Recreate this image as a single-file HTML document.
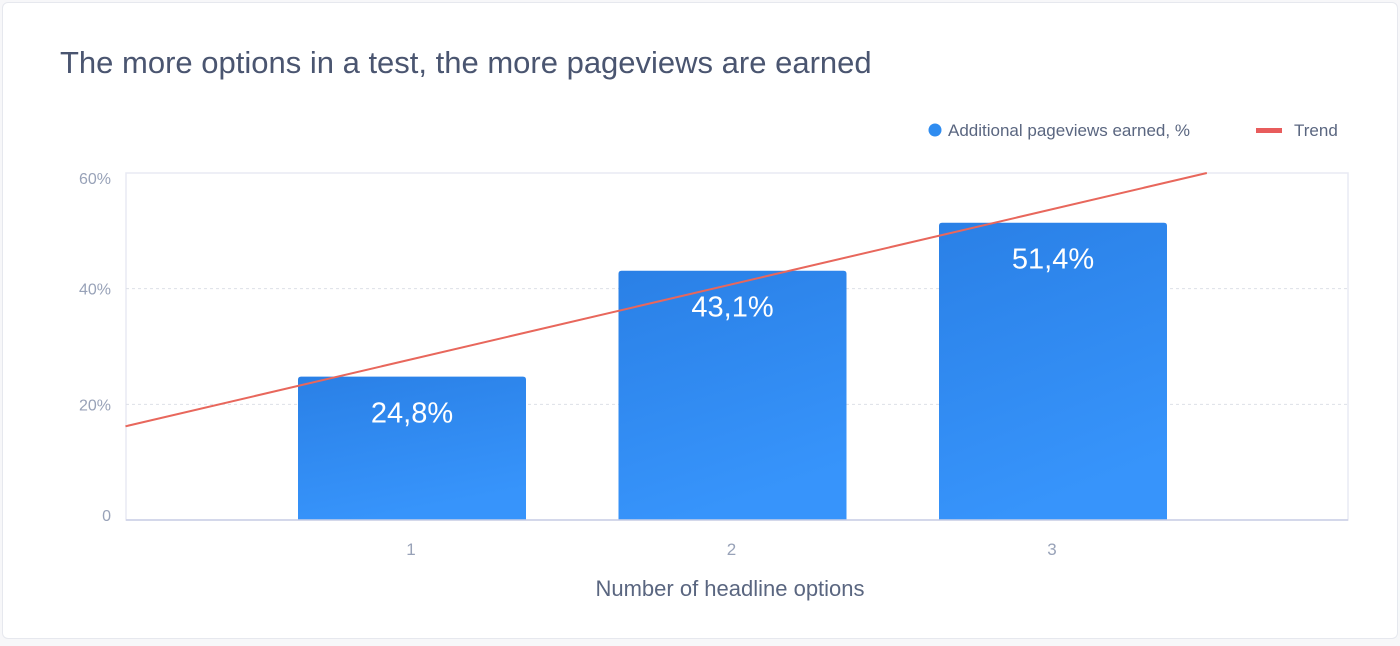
<!DOCTYPE html>
<html><head><meta charset="utf-8"><style>
html,body{margin:0;padding:0;background:#f7f7f9;width:1400px;height:646px;overflow:hidden;font-family:"Liberation Sans",Arial,sans-serif}
.card{position:absolute;left:2px;top:2px;width:1394px;height:635px;background:#fff;border:1px solid #e6e8ee;border-radius:6px}
</style></head><body>
<div class="card"></div>
<svg width="1400" height="646" style="position:absolute;left:0;top:0">
<defs><linearGradient id="bg" x1="0" y1="0" x2="0.3" y2="1"><stop offset="0" stop-color="#2a80e6"/><stop offset="1" stop-color="#3794fb"/></linearGradient></defs>
<text x="60" y="73" font-size="31" fill="#4a5570">The more options in a test, the more pageviews are earned</text>
<g>
<circle cx="935" cy="130" r="6.5" fill="#2f8cf0"/>
<text x="948" y="136" font-size="17" fill="#5a6680">Additional pageviews earned, %</text>
<rect x="1256" y="128" width="26" height="5" fill="#e85c5c"/>
<text x="1294" y="136" font-size="17" fill="#5a6680">Trend</text>
</g>
<g id="plot"></g>
<text x="730" y="596" font-size="22" text-anchor="middle" fill="#5a6680">Number of headline options</text>
</svg>
<script>
const categories=["1","2","3"];
const values=[24.8,43.1,51.4];
const valueLabels=["24,8%","43,1%","51,4%"];
const yTicks=[0,20,40,60];
const yTickLabels=["0","20%","40%","60%"];
const trendX=[0.106,3.48];
const trendY=[16.2,60];
const L=126,R=1348,T=173,B=520;
const y=v=>B-(B-T)*v/60;
const x=c=>412+(c-1)*320.5;
const bw=228;
const ns="http://www.w3.org/2000/svg";
const g=document.getElementById('plot');
function mk(t,a){const e=document.createElementNS(ns,t);for(const k in a)e.setAttribute(k,a[k]);g.appendChild(e);return e;}
let f=mk('rect',{x:L,y:T,width:R-L,height:B-T,fill:'none',stroke:'#e8eaf4','stroke-width':1.5});


yTicks.forEach((t,i)=>{
 if(t>0&&t<60){let l=mk('line',{x1:L,x2:R,y1:y(t),y2:y(t),stroke:'#dde0e8','stroke-dasharray':'3,3'});
 
 }
 let tx=mk('text',{x:111,y:y(t)+(t==60?11:t==0?1:6),'font-size':16,'text-anchor':'end',fill:'#98a2b8'});
 tx.textContent=yTickLabels[i];
 
 
});
categories.forEach((c,i)=>{
 const cx=x(i+1),v=values[i];
 let r=mk('path',{d:`M${cx-bw/2},${B} V${y(v)+3} q0,-3 3,-3 H${cx+bw/2-3} q3,0 3,3 V${B} Z`,fill:'url(#bg)'});
 
 
 let t=mk('text',{x:cx,y:y(v)+46,'font-size':29,'text-anchor':'middle',fill:'#fff'});
 t.textContent=valueLabels[i];
 
 
 let xl=mk('text',{x:cx-1,y:555,'font-size':17,'text-anchor':'middle',fill:'#98a2b8'});
 xl.textContent=c;
 
 
});
let ax=mk('line',{x1:L,x2:R,y1:B,y2:B,stroke:'#c9cfe6','stroke-width':1.5});


let tl=mk('line',{x1:L,y1:y(trendY[0]),x2:x(trendX[1]),y2:y(trendY[1]),stroke:'#e8675c','stroke-width':2});
tl.setAttribute('x1',x(trendX[0]));


</script>
</body></html>
